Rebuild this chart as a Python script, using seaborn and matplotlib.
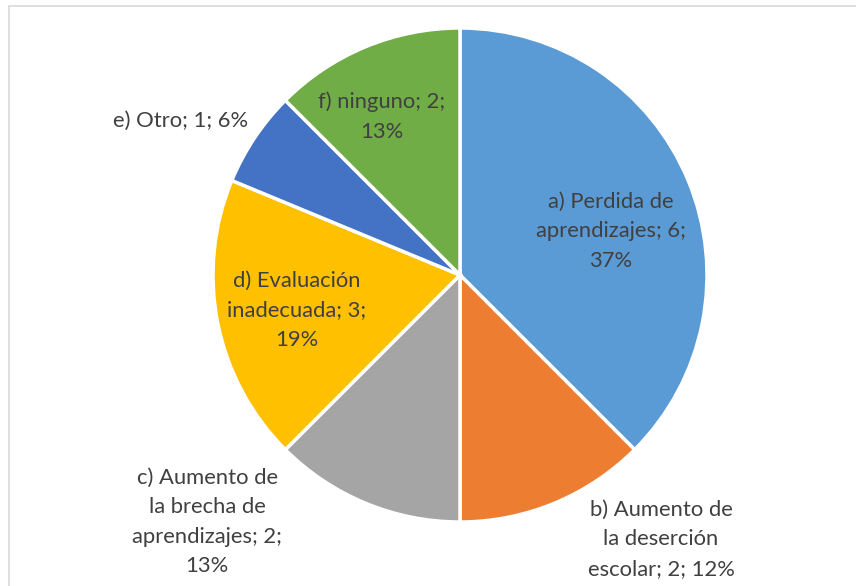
"""Pie chart: consecuencias percibidas (recreated)."""

import matplotlib

matplotlib.use("Agg")
import matplotlib.pyplot as plt
import seaborn as sns

categories = [
    "a) Perdida de\naprendizajes",
    "b) Aumento de\nla deserción\nescolar",
    "c) Aumento de\nla brecha de\naprendizajes",
    "d) Evaluación\ninadecuada",
    "e) Otro",
    "f) ninguno",
]
counts = [6, 2, 2, 3, 1, 2]
pct_labels = ["37%", "12%", "13%", "19%", "6%", "13%"]
# how each label wraps its count/percent part (Excel-like wrapping)
tails = ["; {n};\n{p}", "; {n}; {p}", "; {n};\n{p}", "; {n};\n{p}", "; {n}; {p}", "; {n};\n{p}"]

colors = ["#5B9BD5", "#ED7D31", "#A5A5A5", "#FFC000", "#4472C4", "#70AD47"]
# label anchor in data units (pie radius = 1)
label_pos = [
    (0.611, 0.178),
    (0.814, -1.069),
    (-1.024, -1.0),
    (-0.66, -0.142),
    (-1.13, 0.625),
    (-0.316, 0.640),
]

sns.set_theme(style="white")
plt.rcParams["font.family"] = ["Lato", "DejaVu Sans"]

W, H = 856, 586
fig = plt.figure(figsize=(W / 100, H / 100), dpi=100)
cx, cy, r = 460, 275, 247
ax = fig.add_axes([(cx - r) / W, (H - cy - r) / H, 2 * r / W, 2 * r / H])

ax.pie(
    counts,
    colors=colors,
    startangle=90,
    counterclock=False,
    radius=1,
    wedgeprops={"edgecolor": "white", "linewidth": 2.5},
)
ax.set_xlim(-1, 1)
ax.set_ylim(-1, 1)
ax.set_aspect("equal")
ax.axis("off")

for cat, n, p, tail, (x, y) in zip(categories, counts, pct_labels, tails, label_pos):
    ax.text(
        x, y, cat + tail.format(n=n, p=p),
        ha="center", va="center", multialignment="center",
        fontsize=15.8, color="#404040", linespacing=1.6, clip_on=False,
    )

# chart-area frame (top and left edges visible in the crop)
fig.add_artist(plt.Line2D([9 / W, 1], [1 - 6 / H, 1 - 6 / H], color="#D9D9D9", lw=1.2))
fig.add_artist(plt.Line2D([9 / W, 9 / W], [0, 1 - 6 / H], color="#D9D9D9", lw=1.2))

fig.savefig("out.png", dpi=100)
